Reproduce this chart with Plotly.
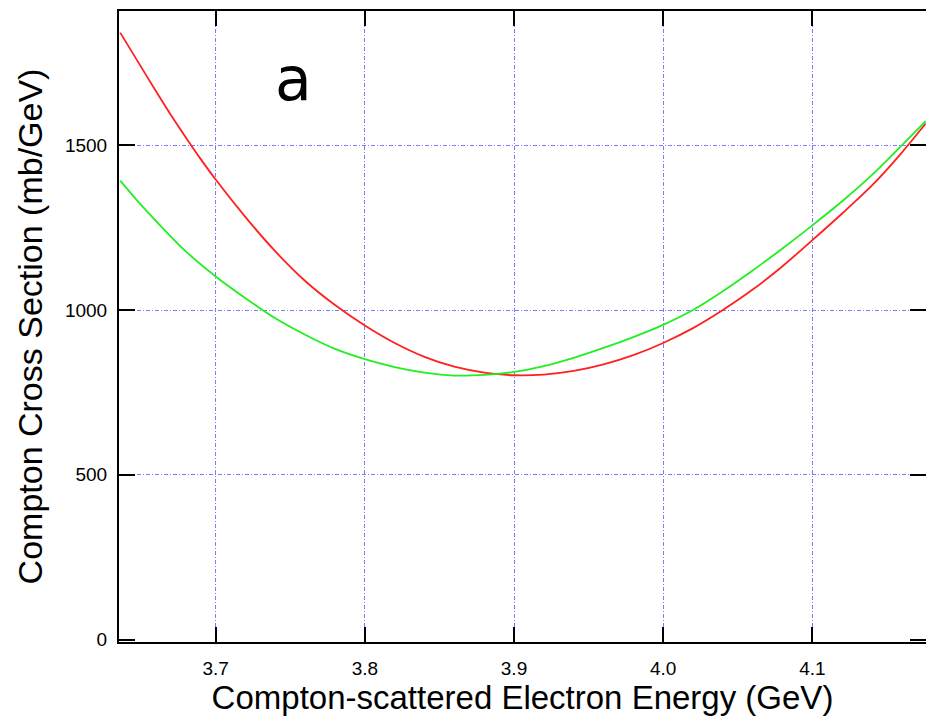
import plotly.graph_objects as go

# Electron energy (GeV)
energy_red = [3.636, 3.65, 3.66, 3.67, 3.68, 3.69, 3.70, 3.72, 3.74, 3.76, 3.78, 3.80,
              3.82, 3.84, 3.86, 3.88, 3.90, 3.92, 3.94, 3.96, 3.98, 4.00, 4.02, 4.04,
              4.06, 4.08, 4.10, 4.12, 4.14, 4.16, 4.176]
xsec_red = [1842, 1738, 1664, 1592, 1524, 1458, 1396, 1282, 1178, 1088, 1015, 953,
            900, 858, 828, 810, 802, 804, 815, 835, 863, 900, 945, 1000,
            1062, 1133, 1212, 1293, 1378, 1478, 1566]

energy_green = [3.636, 3.65, 3.664, 3.68, 3.70, 3.72, 3.74, 3.76, 3.78, 3.80, 3.82, 3.84,
                3.86, 3.88, 3.90, 3.92, 3.94, 3.96, 3.98, 4.00, 4.02, 4.04, 4.06, 4.08,
                4.10, 4.12, 4.14, 4.16, 4.176]
xsec_green = [1393, 1319, 1251, 1178, 1102, 1036, 975, 925, 882, 851, 827, 810,
              801, 803, 812, 830, 855, 885, 918, 955, 1000, 1057, 1120, 1187,
              1257, 1330, 1410, 1500, 1573]

x_ticks = [3.7, 3.8, 3.9, 4.0, 4.1]
x_tick_labels = ["3.7", "3.8", "3.9", "4.0", "4.1"]
y_ticks = [0, 500, 1000, 1500]
y_tick_labels = ["0", "500", "1000", "1500"]

x_range = [3.6352, 4.1762]
y_range = [-7.6, 1907.6]

FONT = "Liberation Sans, Arial, sans-serif"
GRID = "#7b7bff"
GRID_DASH = "4px,2px,1px,2px"

fig = go.Figure()
fig.add_trace(go.Scatter(x=energy_red, y=xsec_red, mode="lines",
                         line=dict(color="#ff2020", width=1.8, shape="spline", smoothing=0.8),
                         showlegend=False, yaxis="y"))
fig.add_trace(go.Scatter(x=energy_green, y=xsec_green, mode="lines",
                         line=dict(color="#22ee22", width=1.8, shape="spline", smoothing=0.8),
                         showlegend=False, yaxis="y2"))

fig.update_layout(
    width=926, height=716,
    margin=dict(l=119, r=0, t=11, b=74),
    paper_bgcolor="white", plot_bgcolor="white",
    font=dict(family=FONT, color="black"),
    xaxis=dict(range=x_range, tickvals=x_ticks, ticktext=x_tick_labels,
               showline=True, linecolor="black", linewidth=2, mirror="ticks",
               ticks="inside", ticklen=15, tickwidth=2, tickcolor="black",
               showgrid=True, gridcolor=GRID, griddash=GRID_DASH, gridwidth=1,
               zeroline=False, tickfont=dict(size=19, family=FONT),
               ticklabelstandoff=8,
               title=dict(text="Compton-scattered Electron Energy (GeV)",
                          font=dict(size=33, family=FONT), standoff=5)),
    yaxis=dict(range=y_range, tickvals=y_ticks, ticktext=y_tick_labels,
               showline=True, linecolor="black", linewidth=2,
               ticks="inside", ticklen=16, tickwidth=2, tickcolor="black",
               showgrid=True, gridcolor=GRID, griddash=GRID_DASH, gridwidth=1,
               zeroline=True, zerolinecolor="rgba(0,0,0,0)", zerolinewidth=1,
               tickfont=dict(size=19, family=FONT),
               ticklabelstandoff=6,
               title=dict(text="Compton Cross Section (mb/GeV)",
                          font=dict(size=34, family=FONT), standoff=12)),
    yaxis2=dict(range=y_range, tickvals=y_ticks, overlaying="y", side="right",
                showline=False, ticks="inside", ticklen=16, tickwidth=2,
                tickcolor="black", showticklabels=False, showgrid=False,
                zeroline=False),
    annotations=[dict(text="a", xref="paper", yref="paper",
                      x=(293 - 119) / 807, y=(642 - 79) / 631,
                      xanchor="center", yanchor="middle", showarrow=False,
                      font=dict(size=60, family="DejaVu Sans", color="black"))],
)

fig.write_html("out.html")
